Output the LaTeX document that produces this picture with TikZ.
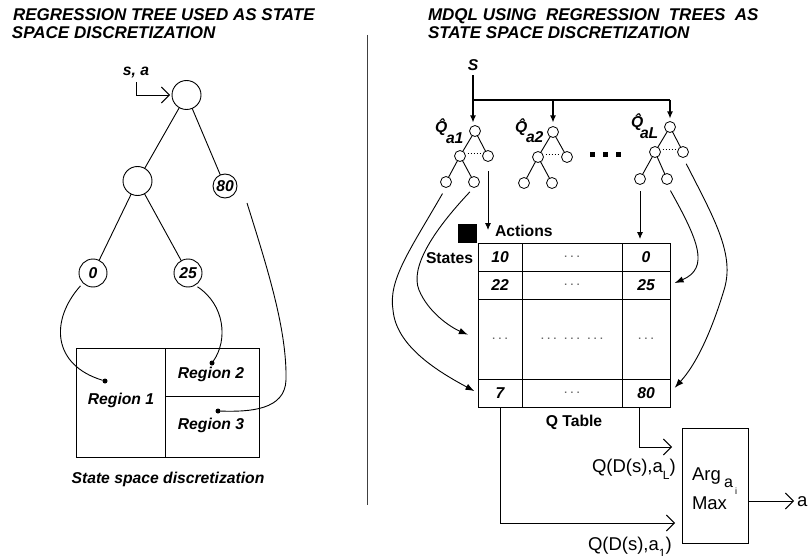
\documentclass[tikz,border=0pt]{standalone}
\usepackage{fontspec}
\setmainfont{Liberation Sans}
\usetikzlibrary{arrows.meta,calc}
\newcommand\mydots{{\normalfont\color{black!60}\fontsize{10}{10}\selectfont\textbf{.}\hspace{3.5pt}\textbf{.}\hspace{3.5pt}\textbf{.}}}
\begin{document}
\begin{tikzpicture}[x=1pt,y=-1pt,
  every node/.style={inner sep=0pt, outer sep=0pt},
  tit/.style={font=\fontsize{17}{18}\selectfont\bfseries\itshape},
  bi/.style={font=\fontsize{15.7}{17}\selectfont\bfseries\itshape},
  bu/.style={font=\fontsize{15.7}{17}\selectfont\bfseries},
  rg/.style={font=\fontsize{18.5}{20}\selectfont},
  bigc/.style={circle, draw, line width=0.9pt, minimum size=29pt},
  smc/.style={circle, draw, line width=0.8pt, minimum size=11pt},
  ln/.style={line width=0.9pt},
  barb/.style={-{Straight Barb[length=8pt,width=16pt,line width=0.9pt]}},
  tri/.style={-{Latex[length=9pt,width=6.5pt]}},
  stri/.style={-{Latex[length=7pt,width=6pt]}},
  cell/.style={draw, line width=1pt, rectangle},
  rdot/.style={circle, fill, minimum size=5pt},
]
\fill[white] (0,0) rectangle (808,556);
\useasboundingbox (0,0) rectangle (808,556);

% titles
\node[tit, anchor=base west] (tl1) at (13,21) {REGRESSION TREE USED AS STATE};
\node[tit, anchor=base west] (tl2) at (12,39) {SPACE DISCRETIZATION};
\node[tit, anchor=base west] (tr1) at (428,21) {MDQL USING\ \ REGRESSION\ \ TREES\ \ AS};
\node[tit, anchor=base west] (tr2) at (428,39) {STATE SPACE DISCRETIZATION};

% divider
\coordinate (dvt) at (367,35);
\coordinate (dvb) at (367,505);
\draw[line width=0.9pt, black!75] (dvt) -- (dvb);

% ---------- left: regression tree ----------
\node[bigc] (root) at (186.5,95) {};
\node[bigc] (lc) at (137.5,181) {};
\node[bigc, minimum size=24pt, bi] (n80) at (225,186) {80};
\node[bigc, minimum size=28pt, bi] (n0) at (93,273) {0};
\node[bigc, minimum size=28pt, bi] (n25) at (188,273) {25};
\draw[ln] (root) -- (lc);
\draw[ln] (root) -- (n80);
\draw[ln] (lc) -- (n0);
\draw[ln] (lc) -- (n25);

\node[bi, anchor=base] (sa) at (136,76) {s, a};
\draw[ln, barb, shorten >=2pt] ([yshift=-4pt]sa.south) |- (root.west);

% regions
\node[cell, minimum width=89pt, minimum height=109pt] (r1) at (120.5,402.5) {};
\node[cell, minimum width=94pt, minimum height=48pt] (r2) at (212,372) {};
\node[cell, minimum width=94pt, minimum height=61pt] (r3) at (212,426.5) {};
\node[bi, anchor=base] (t1) at (121,404) {Region 1};
\node[bi, anchor=base] (t2) at (211,378) {Region 2};
\node[bi, anchor=base] (t3) at (211,429) {Region 3};
\node[rdot] (d1) at (105,381) {};
\node[rdot] (d2) at (212,363) {};
\node[rdot] (d3) at (218,411) {};

\draw[ln, shorten <=4pt] (n0.225) .. controls (50,320) and (52,365) .. (d1);
\draw[ln, shorten <=3pt] (n25.-60) .. controls (225,305) and (228,340) .. (d2);
\draw[ln] ($(n80)+(22,17)$) .. controls (268,270) and (287,330) .. (286,380)
   .. controls (285,410) and (250,412) .. (d3);

\node[bi, anchor=base] (ssd) at (168,483) {State space discretization};

% ---------- right: MDQL ----------
\node[bi, anchor=base] (S) at (473,71) {S};

% tree 1
\node[smc] (t1r) at (475,131) {};
\node[smc] (t1a) at (460,156) {};
\node[smc] (t1b) at (488,156) {};
\node[smc] (t1c) at (446,182) {};
\node[smc] (t1d) at (474,182) {};
\draw[ln] (t1r) -- (t1a); \draw[ln] (t1r) -- (t1b);
\draw[ln] (t1a) -- (t1c); \draw[ln] (t1a) -- (t1d);
\draw[dotted, line width=1pt, shorten <=2pt, shorten >=2pt] ([yshift=2pt]t1a.east) -- ([yshift=2pt]t1b.west);
% tree 2
\node[smc] (t2r) at (553,132) {};
\node[smc] (t2a) at (538,157) {};
\node[smc] (t2b) at (567,157) {};
\node[smc] (t2c) at (524,183) {};
\node[smc] (t2d) at (552,183) {};
\draw[ln] (t2r) -- (t2a); \draw[ln] (t2r) -- (t2b);
\draw[ln] (t2a) -- (t2c); \draw[ln] (t2a) -- (t2d);
\draw[dotted, line width=1pt, shorten <=2pt, shorten >=2pt] ([yshift=2pt]t2a.east) -- ([yshift=2pt]t2b.west);
% tree L
\node[smc] (tLr) at (670,127) {};
\node[smc] (tLa) at (655,152) {};
\node[smc] (tLb) at (683,152) {};
\node[smc] (tLc) at (640,179) {};
\node[smc] (tLd) at (667,179) {};
\draw[ln] (tLr) -- (tLa); \draw[ln] (tLr) -- (tLb);
\draw[ln] (tLa) -- (tLc); \draw[ln] (tLa) -- (tLd);
\draw[dotted, line width=1pt, shorten <=2pt, shorten >=2pt] ([yshift=2pt]tLa.east) -- ([yshift=2pt]tLb.west);

% Q-hat labels
\node[bi, anchor=base west] (q1) at (435,133) {\^{Q}};
\node[bi, anchor=base west] (q1s) at (446,144) {a1};
\node[bi, anchor=base west] (q2) at (515,133) {\^{Q}};
\node[bi, anchor=base west] (q2s) at (526,143) {a2};
\node[bi, anchor=base west] (qL) at (631,128) {\^{Q}};
\node[bi, anchor=base west] (qLs) at (640,139) {aL};

% big dots
\node[fill, minimum size=5pt] (bd1) at (592,155) {};
\node[fill, minimum size=5pt] (bd2) at (605,155) {};
\node[fill, minimum size=5pt] (bd3) at (618,155) {};

% S distribution
\coordinate (br) at (473,100);
\draw[line width=1.2pt, stri, shorten >=3pt] ([yshift=-4pt]S.south) -- (S.south |- t1r.north);
\draw[line width=1.2pt] (br) -- (br -| tLr);
\draw[line width=1.2pt, stri, shorten >=4pt] (br -| t2r) -- (t2r.north);
\draw[line width=1.2pt, stri, shorten >=3pt] (br -| tLr) -- (tLr.north);

% table
\node[cell, minimum width=44pt, minimum height=28pt, bi] (c11) at (500,257) {10};
\node[cell, minimum width=100pt, minimum height=28pt] (c12) at (572,257) {\mydots};
\node[cell, minimum width=48pt, minimum height=28pt, bi] (c13) at (646,257) {0};
\node[cell, minimum width=44pt, minimum height=28pt, bi] (c21) at (500,285) {22};
\node[cell, minimum width=100pt, minimum height=28pt] (c22) at (572,285) {\mydots};
\node[cell, minimum width=48pt, minimum height=28pt, bi] (c23) at (646,285) {25};
\node[cell, minimum width=44pt, minimum height=80pt] (c31) at (500,339) {\mydots};
\node[cell, minimum width=100pt, minimum height=80pt] (c32) at (572,339) {\mydots\hspace{8pt}\mydots\hspace{8pt}\mydots};
\node[cell, minimum width=48pt, minimum height=80pt] (c33) at (646,339) {\mydots};
\node[cell, minimum width=44pt, minimum height=28pt, bi] (c41) at (500,393) {7};
\node[cell, minimum width=100pt, minimum height=28pt] (c42) at (572,393) {\mydots};
\node[cell, minimum width=48pt, minimum height=28pt, bi] (c43) at (646,393) {80};

\node[fill, minimum size=19pt] (blk) at (467.5,233.5) {};
\node[bu, anchor=base west] (act) at (495,236) {Actions};
\node[bu, anchor=base west] (st) at (426,263) {States};
\node[bu, anchor=base] (qt) at (574,426) {Q Table};

% arrows into table
\coordinate (acttip) at (488,230);
\draw[ln, stri, shorten <=10pt] (t1b.south) -- (acttip);
\draw[ln, stri, shorten <=7pt, shorten >=4pt] (tLc.south) -- (tLc |- c13.north);
\draw[ln, tri, shorten <=7pt, shorten >=4pt] (t1c.south) .. controls (410,250) and (388,280) .. (393,310)
   .. controls (396,345) and (435,370) .. (c41.west);
\draw[ln, tri, shorten <=6pt, shorten >=11pt] (t1d.south) .. controls (432,232) and (410,268) .. (419,290)
   .. controls (428,312) and (450,327) .. (c31.west);
\draw[ln, tri, shorten <=7pt, shorten >=5pt] (tLd.south) .. controls (698,240) and (710,268) .. (c23.east);
\draw[ln, tri, shorten <=7pt, shorten >=7pt] (tLb.south) .. controls (715,220) and (735,255) .. (724,290)
   .. controls (715,320) and (700,360) .. (c43.east);

% argmax
\node[cell, minimum width=66pt, minimum height=115pt] (am) at (715,485.5) {};
\node[rg, anchor=base west] (arg) at (692,480) {Arg};
\node[anchor=base west, font=\fontsize{16}{16}\selectfont] (ai) at (724,487) {a};
\node[anchor=base west, font=\fontsize{9}{9}\selectfont] (ii) at (735,494) {i};
\node[rg, anchor=base west] (mx) at (692,509) {Max};

\coordinate (inL) at (682,447);
\coordinate (in1) at (682,523);
\draw[ln, barb, shorten >=10pt] ([xshift=-7pt]c43.south) |- (inL);
\draw[ln, barb, shorten >=7pt] (c41.south) |- (in1);
\node[rg, anchor=base west] (lqL) at (592,472) {Q(D(s),a\raisebox{-7pt}{\fontsize{12}{12}\selectfont L})};
\node[rg, anchor=base west] (lq1) at (588,550) {Q(D(s),a\raisebox{-7pt}{\fontsize{12}{12}\selectfont 1})};

\coordinate (outa) at (794,501);
\draw[ln, barb] (am.east |- outa) -- (outa);
\node[rg, anchor=base west] (aout) at (797,506) {a};
\end{tikzpicture}
\end{document}
